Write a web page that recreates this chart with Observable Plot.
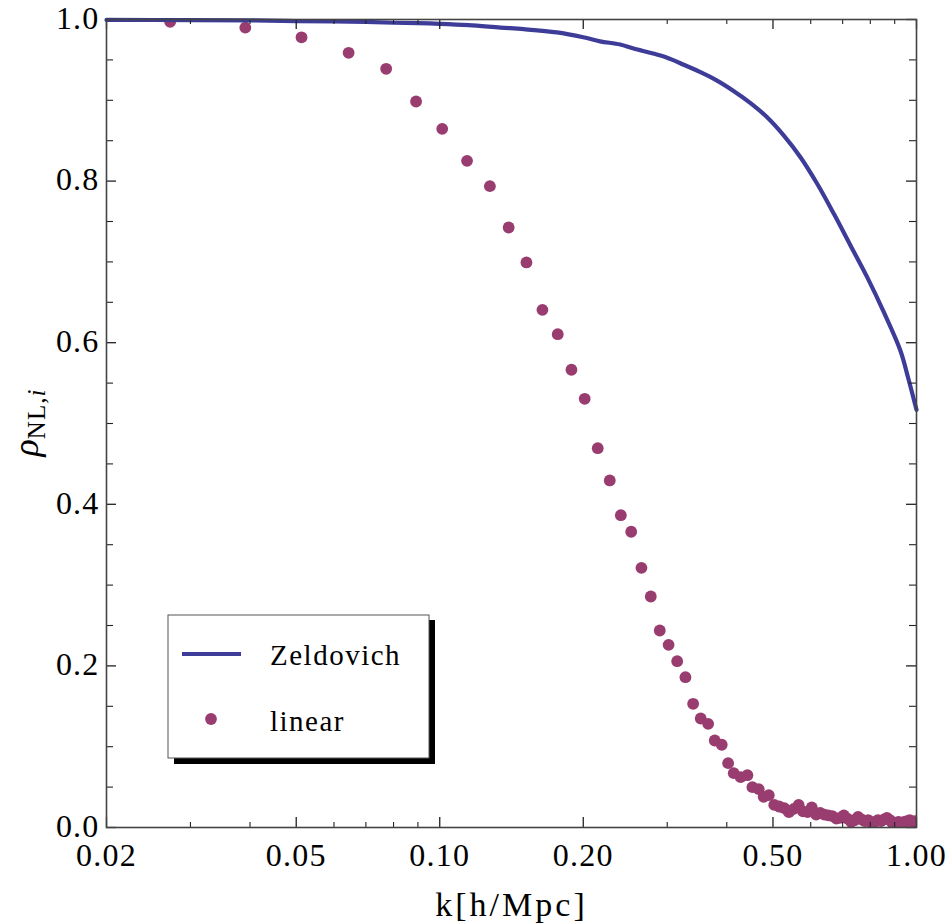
<!DOCTYPE html>
<html><head><meta charset="utf-8">
<script src="https://cdn.jsdelivr.net/npm/d3@7"></script>
<script src="https://cdn.jsdelivr.net/npm/@observablehq/plot@0.6"></script>
<style>body{margin:0;background:#fff}#chart svg{display:block}</style>
</head><body><div id="chart"></div>
<script>
// ---- data ----
const linearK = [0.0272,0.0391,0.0513,0.0644,0.0772,0.0892,0.1012,0.1141,0.1274,0.1395,
  0.152,0.1642,0.1768,0.1889,0.2014,0.2145,0.2273,0.2398,0.2521,0.2649,
  0.2771,0.2894,0.302,0.3148,0.3276,0.340,0.3527,0.3656,0.3774,0.3904,
  0.4026,0.4137,0.4278,0.4419,0.4527,0.4667,0.478,0.490,0.503,0.515,
  0.528,0.540,0.553,0.566,0.578,0.591,0.603,0.616,0.628,0.641,
  0.653,0.666,0.679,0.691,0.704,0.716,0.729,0.741,0.754,0.767,
  0.779,0.792,0.804,0.817,0.830,0.842,0.855,0.867,0.880,0.892,
  0.905,0.917,0.930,0.943,0.955,0.968,0.980,0.993];
const linearRho = [0.997,0.990,0.978,0.9588,0.939,0.8985,0.8647,0.8251,0.7937,0.7426,
  0.6993,0.6407,0.6105,0.5665,0.5306,0.4694,0.4295,0.3865,0.366,0.3214,
  0.2859,0.2438,0.2261,0.2058,0.186,0.1531,0.1349,0.1283,0.1077,0.1024,
  0.0796,0.0672,0.0623,0.0647,0.0499,0.0474,0.038,0.040,0.028,0.026,
  0.024,0.019,0.023,0.028,0.020,0.019,0.025,0.016,0.018,0.016,
  0.015,0.014,0.011,0.012,0.015,0.011,0.007,0.009,0.013,0.010,
  0.008,0.009,0.006,0.007,0.009,0.008,0.010,0.012,0.009,0.005,
  0.006,0.007,0.006,0.007,0.008,0.009,0.007,0.008];
const zelK = [0.020,0.030,0.040,0.050,0.060,0.070,0.080,0.090,0.100,0.115,
  0.134,0.150,0.176,0.200,0.217,0.239,0.255,0.280,0.300,0.325,
  0.352,0.380,0.414,0.450,0.486,0.527,0.571,0.619,0.671,0.727,
  0.788,0.854,0.925,0.960,1.000];
const zelRho = [0.9995,0.9993,0.999,0.998,0.9975,0.997,0.996,0.9955,0.9947,0.993,
  0.990,0.988,0.984,0.978,0.973,0.969,0.964,0.958,0.9526,0.944,
  0.9348,0.925,0.9113,0.896,0.8791,0.8564,0.8296,0.7967,0.7595,0.7203,
  0.6811,0.6377,0.5903,0.557,0.517];
const xMajor = [0.02,0.05,0.1,0.2,0.5,1];
const xMajorLabels = ["0.02","0.05","0.10","0.20","0.50","1.00"];
const xMinor = [0.03,0.04,0.06,0.07,0.08,0.09,0.3,0.4,0.6,0.7,0.8,0.9];
const yMajor = [0,0.2,0.4,0.6,0.8,1];
const yMajorLabels = ["0.0","0.2","0.4","0.6","0.8","1.0"];
const yMinor = [0.05,0.1,0.15,0.25,0.3,0.35,0.45,0.5,0.55,0.65,0.7,0.75,0.85,0.9,0.95];
const seriesNames = ["Zeldovich","linear"];
const xTitle = "k[h/Mpc]";

// ---- styles ----
const FONT = "Liberation Serif, Times New Roman, serif";
const BLUE = "#3d3d99", PURPLE = "#993d70";
const W = 948, H = 923, mT = 19, mB = 96, mL = 106, mR = 32;
const PH = H - mT - mB, PW = W - mL - mR;

const linear = linearK.map((k, i) => ({k, rho: linearRho[i]}));
const zel = zelK.map((k, i) => ({k, rho: zelRho[i]}));
const xLab = xMajor.map((v, i) => ({v, t: xMajorLabels[i]}));
const yLab = yMajor.map((v, i) => ({v, t: yMajorLabels[i]}));

const chart = Plot.plot({
  width: W, height: H,
  marginTop: mT, marginBottom: mB, marginLeft: mL, marginRight: mR,
  style: {fontFamily: FONT, fontSize: "32px", color: "#000", background: "#fff"},
  x: {type: "log", domain: [0.02, 1], axis: null},
  y: {domain: [0, 1], axis: null},
  marks: [
    Plot.dot(linear, {x: "k", y: "rho", r: 5.9, fill: PURPLE, stroke: "none", clip: true}),
    Plot.line(zel, {x: "k", y: "rho", stroke: BLUE, strokeWidth: 4.2, curve: "catmull-rom"}),
    // inward ticks, all four sides
    Plot.tickX(xMajor, {x: d => d, insetTop: PH - 10, stroke: "#222", strokeWidth: 1.3}),
    Plot.tickX(xMinor, {x: d => d, insetTop: PH - 5, stroke: "#222", strokeWidth: 1.1}),
    Plot.tickX(xMajor, {x: d => d, insetBottom: PH - 10, stroke: "#222", strokeWidth: 1.3}),
    Plot.tickX(xMinor, {x: d => d, insetBottom: PH - 5, stroke: "#222", strokeWidth: 1.1}),
    Plot.tickY(yMajor, {y: d => d, insetRight: PW - 10, stroke: "#222", strokeWidth: 1.3}),
    Plot.tickY(yMinor, {y: d => d, insetRight: PW - 7, stroke: "#222", strokeWidth: 1.1}),
    Plot.tickY(yMajor, {y: d => d, insetLeft: PW - 10, stroke: "#222", strokeWidth: 1.3}),
    Plot.tickY(yMinor, {y: d => d, insetLeft: PW - 7, stroke: "#222", strokeWidth: 1.1}),
    Plot.frame({stroke: "#444", strokeWidth: 1.6}),
    Plot.text(xLab, {x: "v", text: "t", frameAnchor: "bottom", dy: 16, lineAnchor: "top",
      fontSize: 32, fill: "#000"}),
    Plot.text(yLab, {y: "v", text: "t", frameAnchor: "left", dx: -7, dy: -1, textAnchor: "end",
      fontSize: 32, fill: "#000"}),
    Plot.text([xTitle], {frameAnchor: "bottom", dy: 88, lineAnchor: "bottom",
      fontSize: 34, fill: "#000"})
  ]
});
document.getElementById("chart").appendChild(chart);

const svg = d3.select(chart);
svg.selectAll("text").style("letter-spacing", "1.2px");
svg.selectAll("text").filter(function () { return this.textContent === xTitle; })
  .style("letter-spacing", "3px");

// y-axis label with subscript
const yl = svg.append("text")
  .attr("transform", `translate(38,${mT + PH / 2}) rotate(-90)`)
  .attr("text-anchor", "middle").attr("font-family", FONT).attr("fill", "#000");
yl.append("tspan").attr("font-style", "italic").attr("font-size", 36).text("ρ");
yl.append("tspan").attr("font-size", 25).attr("dy", 7).style("letter-spacing", "1px").text("NL,");
yl.append("tspan").attr("font-size", 25).attr("font-style", "italic").text("i");

// legend
const lg = svg.append("g").attr("font-family", FONT).attr("text-anchor", "start");
lg.append("rect").attr("x", 174).attr("y", 620).attr("width", 261).attr("height", 144).attr("fill", "#000");
lg.append("rect").attr("x", 168).attr("y", 615).attr("width", 261).attr("height", 143)
  .attr("fill", "#fff").attr("stroke", "#555").attr("stroke-width", 1);
lg.append("line").attr("x1", 182).attr("x2", 241).attr("y1", 654).attr("y2", 654)
  .attr("stroke", BLUE).attr("stroke-width", 4);
lg.append("circle").attr("cx", 211).attr("cy", 719).attr("r", 5.9).attr("fill", PURPLE);
lg.append("text").attr("x", 270).attr("y", 665).attr("font-size", 29).attr("text-anchor", "start")
  .style("letter-spacing", "1.5px").text(seriesNames[0]);
lg.append("text").attr("x", 270).attr("y", 731).attr("font-size", 29).attr("text-anchor", "start")
  .style("letter-spacing", "1.5px").text(seriesNames[1]);
</script></body></html>
